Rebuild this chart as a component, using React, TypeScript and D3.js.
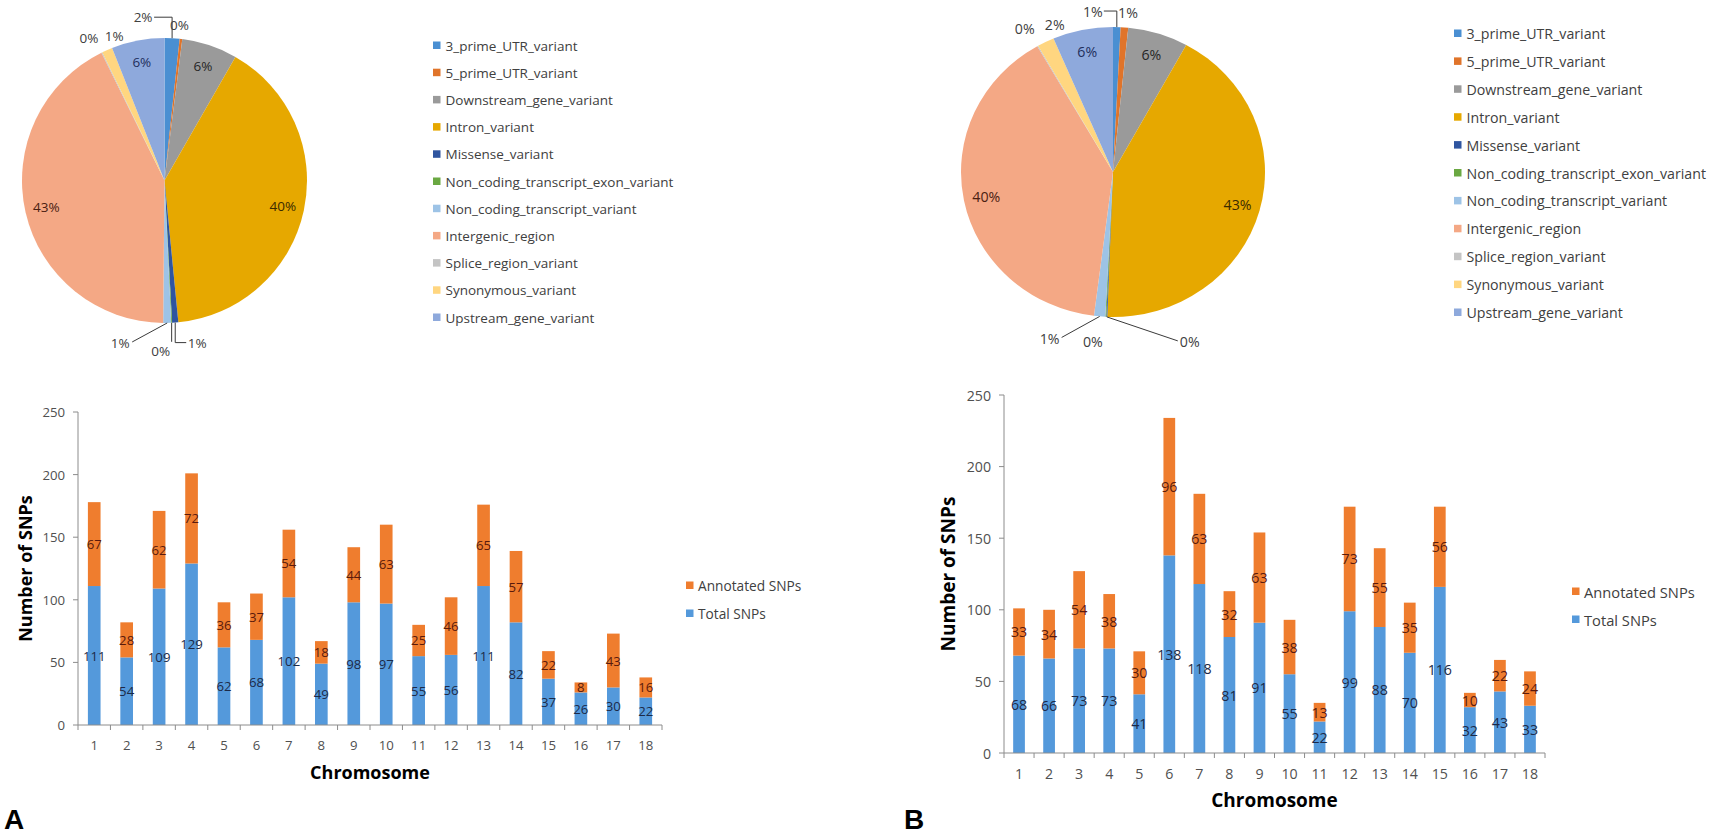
import React from 'react';
import * as d3 from 'd3';

// ---------- DATA ----------
const chromosomes = ['1', '2', '3', '4', '5', '6', '7', '8', '9', '10', '11', '12', '13', '14', '15', '16', '17', '18'];
const totalA = [111, 54, 109, 129, 62, 68, 102, 49, 98, 97, 55, 56, 111, 82, 37, 26, 30, 22];
const annotatedA = [67, 28, 62, 72, 36, 37, 54, 18, 44, 63, 25, 46, 65, 57, 22, 8, 43, 16];
const totalB = [68, 66, 73, 73, 41, 138, 118, 81, 91, 55, 22, 99, 88, 70, 116, 32, 43, 33];
const annotatedB = [33, 34, 54, 38, 30, 96, 63, 32, 63, 38, 13, 73, 55, 35, 56, 10, 22, 24];
const yTicks = [0, 50, 100, 150, 200, 250];
const seriesNames = ['Annotated SNPs', 'Total SNPs'];

const variantTypes = [
  '3_prime_UTR_variant',
  '5_prime_UTR_variant',
  'Downstream_gene_variant',
  'Intron_variant',
  'Missense_variant',
  'Non_coding_transcript_exon_variant',
  'Non_coding_transcript_variant',
  'Intergenic_region',
  'Splice_region_variant',
  'Synonymous_variant',
  'Upstream_gene_variant',
];
// percentage shares
const pieAValues = [1.7, 0.3, 6.3, 40.2, 0.7, 0.1, 0.9, 42.6, 0.1, 1.2, 6.0];
const pieBValues = [0.8, 0.8, 6.4, 42.6, 0.1, 0.1, 1.2, 39.7, 0.1, 1.8, 6.4];

// ---------- STYLE ----------
const FONT = "'Open Sans', 'DejaVu Sans', sans-serif";
const variantColors = ['#4a8fd2', '#e0742a', '#9a9a9a', '#e6a800', '#2f55a0', '#6aa842', '#9dc3e6', '#f4a885', '#c4c4c4', '#ffd680', '#8ea9dc'];
const innerLabelColors: Record<number, string> = { 2: '#262626', 3: '#3a2a00', 7: '#4a2012', 10: '#1f2f5c' };
const barColors = { total: '#5499db', annotated: '#ef7d2e' };
const barLabelColors = { total: '#1c2a48', annotated: '#5a1a0c' };
const axisColor = '#8c8c8c';
const textColor = '#404040';

type Leader = 'none' | 'elbow' | 'direct' | 'vertical';
type SmallLabel = { dx: number; dy: number; leader: Leader };

const smallLabelsA: Record<number, SmallLabel> = {
  0: { dx: -29, dy: -21, leader: 'elbow' },
  1: { dx: -1.5, dy: -14, leader: 'none' },
  4: { dx: 22, dy: 20, leader: 'elbow' },
  5: { dx: -11, dy: 28, leader: 'vertical' },
  6: { dx: -47, dy: 20, leader: 'direct' },
  8: { dx: -13, dy: -15, leader: 'none' },
  9: { dx: 7, dy: -14, leader: 'none' },
};
const smallLabelsB: Record<number, SmallLabel> = {
  0: { dx: -24, dy: -16, leader: 'elbow' },
  1: { dx: 3.5, dy: -15, leader: 'none' },
  4: { dx: 83, dy: 25, leader: 'direct' },
  5: { dx: -13, dy: 25, leader: 'none' },
  6: { dx: -50, dy: 22, leader: 'direct' },
  8: { dx: -13, dy: -18, leader: 'none' },
  9: { dx: 9, dy: -17, leader: 'none' },
};

function PieChart(props: {
  values: number[];
  cx: number;
  cy: number;
  rx: number;
  ry: number;
  small: Record<number, SmallLabel>;
  fs: number;
}) {
  const { values, cx, cy, rx, ry, small, fs } = props;
  const total = d3.sum(values);
  const arcs = d3.pie<number>().sort(null).value((d) => d)(values);
  const arcGen = d3.arc<d3.PieArcDatum<number>>().innerRadius(0).outerRadius(rx);
  const pt = (a: number, k: number) => [cx + Math.sin(a) * rx * k, cy - Math.cos(a) * ry * k];
  return (
    <g>
      <g transform={`translate(${cx},${cy}) scale(1,${ry / rx})`}>
        {arcs.map((a, i) => (
          <path key={i} d={arcGen(a) || ''} fill={variantColors[i]} />
        ))}
      </g>
      {arcs.map((a, i) => {
        const mid = (a.startAngle + a.endAngle) / 2;
        const label = Math.round((a.value / total) * 100) + '%';
        const cfg = small[i];
        if (!cfg) {
          const [x, y] = pt(mid, 0.85);
          return (
            <text key={i} x={x} y={y} textAnchor="middle" dominantBaseline="central" fontFamily={FONT} fontSize={fs} fill={innerLabelColors[i] || textColor}>
              {label}
            </text>
          );
        }
        const [ex, ey] = pt(mid, 1);
        const lx = ex + cfg.dx;
        const ly = ey + cfg.dy;
        const hw = 10;
        const side = ex > lx ? 1 : -1;
        let d = '';
        if (cfg.leader === 'elbow') d = `M${ex},${ey}L${ex},${ly}L${lx + side * (hw + 1)},${ly}`;
        if (cfg.leader === 'direct') d = `M${ex},${ey}L${lx + side * (hw + 2)},${ly - 1}`;
        if (cfg.leader === 'vertical') d = `M${ex},${ey}L${ex},${ly - 9}`;
        return (
          <g key={i}>
            {d && <path d={d} fill="none" stroke="#3a3a3a" strokeWidth={1} />}
            <text x={lx} y={ly} textAnchor="middle" dominantBaseline="central" fontFamily={FONT} fontSize={fs} fill={textColor}>
              {label}
            </text>
          </g>
        );
      })}
    </g>
  );
}

function PieLegend(props: { x: number; y: number; step: number; fs: number }) {
  const { x, y, step, fs } = props;
  return (
    <g>
      {variantTypes.map((name, i) => (
        <g key={name} transform={`translate(${x},${y + i * step})`}>
          <rect x={0} y={-3.5} width={7.5} height={7.5} fill={variantColors[i]} />
          <text x={12.5} y={0.5} dominantBaseline="central" fontFamily={FONT} fontSize={fs} fill={textColor}>
            {name}
          </text>
        </g>
      ))}
    </g>
  );
}

function BarChart(props: {
  total: number[];
  annotated: number[];
  x0: number;
  x1: number;
  yBottom: number;
  yTop: number;
  yTitleX: number;
  xTitleY: number;
  titleSize: number;
  fs: number;
  legendX: number;
  legendY: number;
  legendStep: number;
}) {
  const { total, annotated, x0, x1, yBottom, yTop, yTitleX, xTitleY, titleSize, fs, legendX, legendY, legendStep } = props;
  const x = d3.scaleBand<string>().domain(chromosomes).range([x0, x1]).paddingInner(0.61).paddingOuter(0.305);
  const y = d3.scaleLinear().domain([0, 250]).range([yBottom, yTop]);
  const rows = chromosomes.map((c, i) => ({ c, total: total[i], annotated: annotated[i] }));
  const stacked = d3.stack<any>().keys(['total', 'annotated'])(rows);
  const step = (x1 - x0) / chromosomes.length;
  const boundaries = d3.range(chromosomes.length + 1).map((i) => x0 + i * step);
  return (
    <g>
      {stacked.map((layer) => {
        const key = layer.key as 'total' | 'annotated';
        return (
          <g key={key}>
            {layer.map((d, i) => (
              <rect key={i} x={x(chromosomes[i])} width={x.bandwidth()} y={y(d[1])} height={y(d[0]) - y(d[1])} fill={barColors[key]} />
            ))}
          </g>
        );
      })}
      {stacked.map((layer) => {
        const key = layer.key as 'total' | 'annotated';
        return (
          <g key={'l' + key}>
            {layer.map((d, i) => (
              <text
                key={'t' + i}
                x={(x(chromosomes[i]) as number) + x.bandwidth() / 2}
                y={y((d[0] + d[1]) / 2)}
                textAnchor="middle"
                dominantBaseline="central"
                fontFamily={FONT}
                fontSize={fs}
                fill={barLabelColors[key]}
              >
                {d[1] - d[0]}
              </text>
            ))}
          </g>
        );
      })}
      {/* y axis */}
      <line x1={x0} x2={x0} y1={yBottom} y2={yTop} stroke={axisColor} />
      {yTicks.map((t) => (
        <g key={t}>
          <line x1={x0 - 5} x2={x0} y1={y(t)} y2={y(t)} stroke={axisColor} />
          <text x={x0 - 13} y={y(t)} textAnchor="end" dominantBaseline="central" fontFamily={FONT} fontSize={fs} fill="#505050">
            {t}
          </text>
        </g>
      ))}
      {/* x axis */}
      <line x1={x0} x2={x1} y1={yBottom} y2={yBottom} stroke={axisColor} />
      {boundaries.map((b, i) => (
        <line key={i} x1={b} x2={b} y1={yBottom} y2={yBottom + 5} stroke={axisColor} />
      ))}
      {chromosomes.map((c) => (
        <text key={c} x={(x(c) as number) + x.bandwidth() / 2} y={yBottom + 20} textAnchor="middle" dominantBaseline="central" fontFamily={FONT} fontSize={fs} fill="#505050">
          {c}
        </text>
      ))}
      <text
        transform={`translate(${yTitleX},${(yBottom + yTop) / 2}) rotate(-90)`}
        textAnchor="middle"
        dominantBaseline="central"
        fontFamily={FONT}
        fontWeight="bold"
        fontSize={titleSize}
        fill="#000"
      >
        Number of SNPs
      </text>
      <text x={(x0 + x1) / 2} y={xTitleY} textAnchor="middle" dominantBaseline="central" fontFamily={FONT} fontWeight="bold" fontSize={titleSize} fill="#000">
        Chromosome
      </text>
      {/* legend */}
      {seriesNames.map((name, i) => (
        <g key={name} transform={`translate(${legendX},${legendY + i * legendStep})`}>
          <rect x={0} y={-3.5} width={7.5} height={7.5} fill={i === 0 ? barColors.annotated : barColors.total} />
          <text x={12} y={0.5} dominantBaseline="central" fontFamily={FONT} fontSize={fs + 0.5} fill={textColor}>
            {name}
          </text>
        </g>
      ))}
    </g>
  );
}

export default function App() {
  return (
    <svg width={1713} height={837} style={{ position: 'absolute', left: 0, top: 0, background: '#fff' }}>
      <rect width={1713} height={837} fill="#fff" />
      <PieChart values={pieAValues} cx={164.5} cy={180.5} rx={142.5} ry={142.5} small={smallLabelsA} fs={13.5} />
      <PieLegend x={433} y={45} step={27.2} fs={13.5} />
      <PieChart values={pieBValues} cx={1113} cy={172} rx={152} ry={145} small={smallLabelsB} fs={14.2} />
      <PieLegend x={1454} y={33} step={27.9} fs={14.2} />
      <BarChart
        total={totalA}
        annotated={annotatedA}
        x0={78}
        x1={662}
        yBottom={725}
        yTop={412}
        yTitleX={25}
        xTitleY={772}
        titleSize={18}
        fs={13.2}
        legendX={686}
        legendY={585}
        legendStep={28}
      />
      <BarChart
        total={totalB}
        annotated={annotatedB}
        x0={1004}
        x1={1545}
        yBottom={753}
        yTop={395}
        yTitleX={948}
        xTitleY={800}
        titleSize={19}
        fs={14.2}
        legendX={1572}
        legendY={591}
        legendStep={28}
      />
      <text x={4} y={829} fontFamily="'Liberation Sans', Arial, sans-serif" fontWeight="bold" fontSize={28} fill="#000">
        A
      </text>
      <text x={904} y={829} fontFamily="'Liberation Sans', Arial, sans-serif" fontWeight="bold" fontSize={28} fill="#000">
        B
      </text>
    </svg>
  );
}
